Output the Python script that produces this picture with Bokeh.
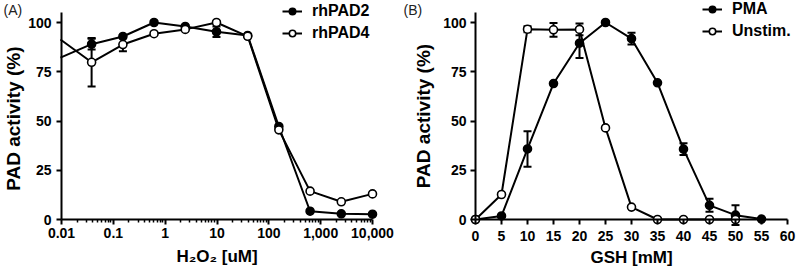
from bokeh.plotting import figure
from bokeh.models import (Range1d, FixedTicker, ColumnDataSource, Whisker, TeeHead,
                          Legend, LegendItem, Label)
from bokeh.layouts import row
from bokeh.embed import file_html
from bokeh.resources import INLINE
import math

# ---------------- data: panel A ----------------
h2o2_um = [0.00954, 0.0381, 0.153, 0.610, 2.44, 9.77, 39.1, 156, 625, 2500, 10000]
rhpad2 = [82.2, 89.0, 92.9, 100.0, 98.0, 95.3, 93.4, 47.2, 4.2, 2.9, 2.7]
rhpad2_sd = [0, 2.7, 0, 0, 0, 2.7, 0, 0, 0, 0, 0]
rhpad4 = [91.4, 79.8, 88.8, 94.3, 96.5, 100.0, 93.0, 45.5, 14.4, 9.0, 13.0]
rhpad4_sd = [0, 12.3, 3.4, 0, 0, 0, 0, 0, 0, 0, 0]
a_xticks = [0.01, 0.1, 1, 10, 100, 1000, 10000]
a_xlabels = ["0.01", "0.1", "1", "10", "100", "1,000", "10,000"]
a_minor = [m * d for d in [0.01, 0.1, 1, 10, 100, 1000] for m in range(2, 10)]

# ---------------- data: panel B ----------------
gsh_mm = [0, 5, 10, 15, 20, 25, 30, 35, 40, 45, 50, 55]
pma = [0, 1.8, 35.8, 69.0, 89.5, 100.0, 91.8, 69.4, 35.7, 7.2, 2.2, 0.2]
pma_sd = [0, 0, 9.0, 0, 7.5, 0, 3.0, 0, 3.0, 3.3, 5.0, 0]
gsh_unstim = [0, 5, 10, 15, 20, 25, 30, 35, 40, 45, 50]
unstim = [0, 12.7, 96.6, 96.3, 96.5, 46.5, 6.3, 0, 0, 0, 0]
unstim_sd = [0, 0, 1.5, 3.5, 3.0, 0, 0, 0, 0, 0, 0]
b_xticks = [0, 5, 10, 15, 20, 25, 30, 35, 40, 45, 50, 55, 60]
yticks = [0, 25, 50, 75, 100]

FONT = "Liberation Sans"
W, H = 400, 273
Y0_PX, Y100_PX = 219.0, 22.0          # pixel rows of y=0 and y=100
PPU_Y = (Y0_PX - Y100_PX) / 100.0
Y_START = -(H - Y0_PX) / PPU_Y
Y_END = 100 + Y100_PX / PPU_Y


def style_axes(p, xls1, xls2, yls1, yls2, xfix, xbounds):
    for ax in (p.xaxis, p.yaxis):
        ax.axis_line_width = 2
        ax.axis_line_color = "black"
        ax.major_tick_line_width = 2
        ax.major_tick_line_color = "black"
        ax.minor_tick_line_width = 1.5
        ax.minor_tick_line_color = "black"
        ax.major_tick_out = 5
        ax.major_tick_in = 0
        ax.minor_tick_out = 3
        ax.minor_tick_in = 0
        ax.major_label_text_font = FONT
        ax.major_label_text_font_size = "14px"
        ax.major_label_text_font_style = "bold"
        ax.major_label_text_color = "black"
        ax.axis_label_text_font = FONT
        ax.axis_label_text_font_style = "bold"
        ax.axis_label_text_color = "black"
    p.xaxis.axis_label_text_font_size = "17px"
    p.yaxis.axis_label_text_font_size = "19px"
    p.xaxis.major_label_standoff = xls1
    p.xaxis.axis_label_standoff = xls2
    p.yaxis.major_label_standoff = yls1
    p.yaxis.axis_label_standoff = yls2
    p.yaxis.ticker = FixedTicker(ticks=yticks, minor_ticks=[])
    p.yaxis.bounds = (0, 105)
    p.yaxis.fixed_location = xfix
    p.xaxis.bounds = xbounds
    p.xaxis.fixed_location = 0
    p.xgrid.visible = False
    p.ygrid.visible = False
    p.outline_line_color = None
    p.title.visible = False


def add_series(p, xs, ys, sds, filled, keep):
    pts = [(x, y, s) for x, y, s in zip(xs, ys, sds) if keep(x)]
    err = [(x, y, s) for x, y, s in pts if s > 0]
    esrc = ColumnDataSource(dict(x=[e[0] for e in err],
                                 upper=[e[1] + e[2] for e in err],
                                 lower=[e[1] - e[2] for e in err]))
    w = Whisker(source=esrc, base="x", upper="upper", lower="lower",
                line_width=2, line_color="black",
                upper_head=TeeHead(size=8, line_width=2, line_color="black"),
                lower_head=TeeHead(size=8, line_width=2, line_color="black"))
    p.add_layout(w)
    ln = p.line(xs, ys, line_width=2, line_color="black")
    sc = p.scatter([q[0] for q in pts], [q[1] for q in pts], size=8,
                   line_color="black", line_width=1.6,
                   fill_color="black" if filled else "white")
    return ln, sc


def make_legend(p, items, x, y):
    lg = Legend(items=items, location=(x, y), orientation="vertical",
                background_fill_alpha=0, border_line_alpha=0,
                label_text_font=FONT, label_text_font_size="16px",
                label_text_font_style="bold", label_text_color="black",
                glyph_width=20, glyph_height=16, label_height=16,
                label_standoff=10, spacing=4, padding=0, margin=0)
    p.add_layout(lg, "center")


def panel_label(p, text):
    p.add_layout(Label(x=3, y=H - 1, x_units="screen", y_units="screen", text=text,
                       text_font=FONT, text_font_size="14px", text_baseline="top",
                       text_color="#222222"))


# ---------------- panel A (log x) ----------------
A_LEFT, A_RIGHT = 61.0, 372.0
ppd = (A_RIGHT - A_LEFT) / 6.0
ax_start = 10 ** (-2 - A_LEFT / ppd)
ax_end = 10 ** (4 + (W - A_RIGHT) / ppd)
pA = figure(width=W, height=H, x_axis_type="log",
            x_range=Range1d(ax_start, ax_end), y_range=Range1d(Y_START, Y_END),
            output_backend="svg", toolbar_location=None,
            min_border_left=0, min_border_right=0, min_border_top=0, min_border_bottom=0)
style_axes(pA, 3, 6, 5, 1, 0.01, (0.01, 10000))
pA.xaxis.ticker = FixedTicker(ticks=a_xticks, minor_ticks=a_minor)
pA.xaxis.major_label_overrides = {t: l for t, l in zip(a_xticks, a_xlabels)}
pA.xaxis.axis_label = "H\u2082O\u2082 [uM]"
pA.yaxis.axis_label = "PAD activity  (%)"

la2, sa2 = add_series(pA, h2o2_um, rhpad2, rhpad2_sd, True, lambda x: x >= 0.01)
la4, sa4 = add_series(pA, h2o2_um, rhpad4, rhpad4_sd, False, lambda x: x >= 0.01)
make_legend(pA, [LegendItem(label="rhPAD2", renderers=[la2, sa2]),
                 LegendItem(label="rhPAD4", renderers=[la4, sa4])], 282, 231)
panel_label(pA, "(A)")

# ---------------- panel B ----------------
B_LEFT, B_RIGHT = 75.0, 387.0
ppu = (B_RIGHT - B_LEFT) / 60.0
pB = figure(width=W, height=H,
            x_range=Range1d(-B_LEFT / ppu, 60 + (W - B_RIGHT) / ppu),
            y_range=Range1d(Y_START, Y_END),
            output_backend="svg", toolbar_location=None,
            min_border_left=0, min_border_right=0, min_border_top=0, min_border_bottom=0)
style_axes(pB, 6, 4, 4, 6, 0, (0, 60))
pB.xaxis.ticker = FixedTicker(ticks=b_xticks, minor_ticks=[])
pB.xaxis.axis_label = "GSH [mM]"
pB.yaxis.axis_label = "PAD activity (%)"

lp, sp = add_series(pB, gsh_mm, pma, pma_sd, True, lambda x: True)
lu, su = add_series(pB, gsh_unstim, unstim, unstim_sd, False, lambda x: True)
make_legend(pB, [LegendItem(label="PMA", renderers=[lp, sp]),
                 LegendItem(label="Unstim.", renderers=[lu, su])], 302, 233)
panel_label(pB, "(B)")

layout = row(pA, pB)
open("out.html", "w").write(file_html(layout, INLINE))
